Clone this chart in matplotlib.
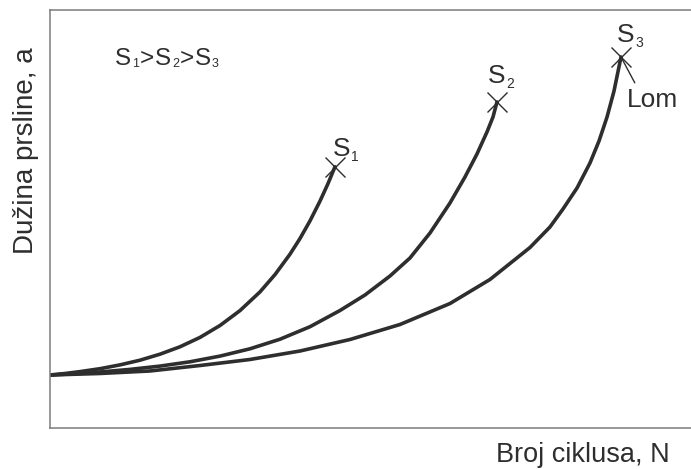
import matplotlib
matplotlib.use("Agg")
import matplotlib.pyplot as plt

# Crack length a vs. number of cycles N for three stress levels (arbitrary units)
N_S1 = [0.0, 2.34, 4.68, 7.80, 10.92, 14.04, 17.16, 20.28, 23.40, 26.52,
        29.64, 32.76, 35.10, 37.44, 39.00, 40.56, 42.12, 43.37, 44.46]
A_S1 = [12.68, 13.04, 13.49, 14.19, 15.10, 16.22, 17.66, 19.43, 21.67, 24.52,
        28.09, 32.56, 36.70, 41.58, 45.33, 49.55, 54.28, 58.47, 62.49]

N_S2 = [0.0, 3.12, 7.80, 12.48, 17.16, 21.84, 26.52, 31.20, 35.88, 40.56, 45.24,
        49.14, 53.04, 56.16, 59.28, 62.40, 64.74, 66.61, 68.17, 69.11, 69.73]
A_S2 = [12.68, 12.92, 13.40, 14.02, 14.81, 15.84, 17.20, 18.95, 21.24, 24.23, 28.11,
        31.82, 36.36, 40.67, 46.65, 53.83, 60.05, 65.55, 70.81, 74.40, 77.99]

N_S3 = [0.0, 7.80, 15.60, 23.40, 31.20, 39.00, 46.80, 54.60, 62.40, 68.64,
        74.88, 78.00, 80.03, 82.22, 84.24, 85.65, 86.90, 87.99, 89.08]
A_S3 = [12.68, 13.04, 13.64, 14.95, 16.39, 18.42, 21.17, 24.76, 29.78, 35.53,
        43.18, 48.09, 52.39, 57.42, 63.40, 68.66, 74.40, 80.62, 88.76]

CURVES = [("S", "1", N_S1, A_S1), ("S", "2", N_S2, A_S2), ("S", "3", N_S3, A_S3)]
ORDER_PIECES = ["S", "1", ">", "S", "2", ">", "S", "3"]

X_LABEL = "Broj ciklusa, N"
Y_LABEL = "Dužina prsline, a"
FRACTURE = "Lom"

INK = "#2e2e2e"
SPINE = "#7c7c7c"

plt.rcParams["font.family"] = ["Liberation Sans", "DejaVu Sans"]


def chained_text(ax, pieces, xy, xycoords, offset, size, subsize, drop):
    """Write text pieces left to right, digits set as subscripts."""
    prev = ax.annotate(pieces[0], xy=xy, xycoords=xycoords, xytext=offset,
                       textcoords="offset points", fontsize=size,
                       ha="left", va="baseline", color=INK)
    prev_sub = False
    for piece in pieces[1:]:
        sub = piece.isdigit()
        if sub and not prev_sub:
            dy = -drop
        elif prev_sub and not sub:
            dy = drop
        else:
            dy = 0
        prev = ax.annotate(piece, xy=(1, 0), xycoords=prev, xytext=(0.6, dy),
                           textcoords="offset points",
                           fontsize=subsize if sub else size,
                           ha="left", va="bottom", color=INK)
        prev_sub = sub
    return prev


fig = plt.figure(figsize=(6.91, 4.69), dpi=100)
ax = fig.add_axes([50 / 691, 41 / 469, 641 / 691, 418 / 469])

for name, sub, n, a in CURVES:
    ax.plot(n, a, color=INK, linewidth=2.6, solid_capstyle="round",
            solid_joinstyle="round")
    ax.plot(n[-1], a[-1], marker="x", markersize=14, markeredgewidth=1.0,
            color=INK, linestyle="none")

# stress labels above the end points
label_offsets = [(-1.5, 8.0), (-6.5, 14.0), (-3.0, 11.0)]
for (name, sub, n, a), off in zip(CURVES, label_offsets):
    chained_text(ax, [name, sub], (n[-1], a[-1]), "data", off,
                 size=19, subsize=10, drop=2.4)

# fracture point on the lowest-stress curve
ax.annotate(FRACTURE, xy=(N_S3[-1], A_S3[-1]), xytext=(23, -31),
            textcoords="offset points", fontsize=19, color=INK,
            ha="center", va="center",
            arrowprops=dict(arrowstyle="-", color=INK, lw=1.0,
                            shrinkA=2, shrinkB=0, relpos=(0.2, 1.0)))

chained_text(ax, ORDER_PIECES, (65 / 641, 363 / 418), "axes fraction", (0, 0),
             size=17.5, subsize=9, drop=0.3)

ax.set_xlim(0, 100)
ax.set_ylim(0, 100)
ax.set_xticks([])
ax.set_yticks([])
ax.spines["right"].set_visible(False)
for side in ("left", "top", "bottom"):
    ax.spines[side].set_color(SPINE)
    ax.spines[side].set_linewidth(1.1)

fig.text(670 / 691, 7 / 469, X_LABEL, fontsize=19.5, color=INK,
         ha="right", va="baseline")
fig.text(26 / 691, (469 - 151) / 469, Y_LABEL, fontsize=20, color=INK,
         rotation=90, ha="center", va="center")

fig.savefig("out.png", dpi=100)
